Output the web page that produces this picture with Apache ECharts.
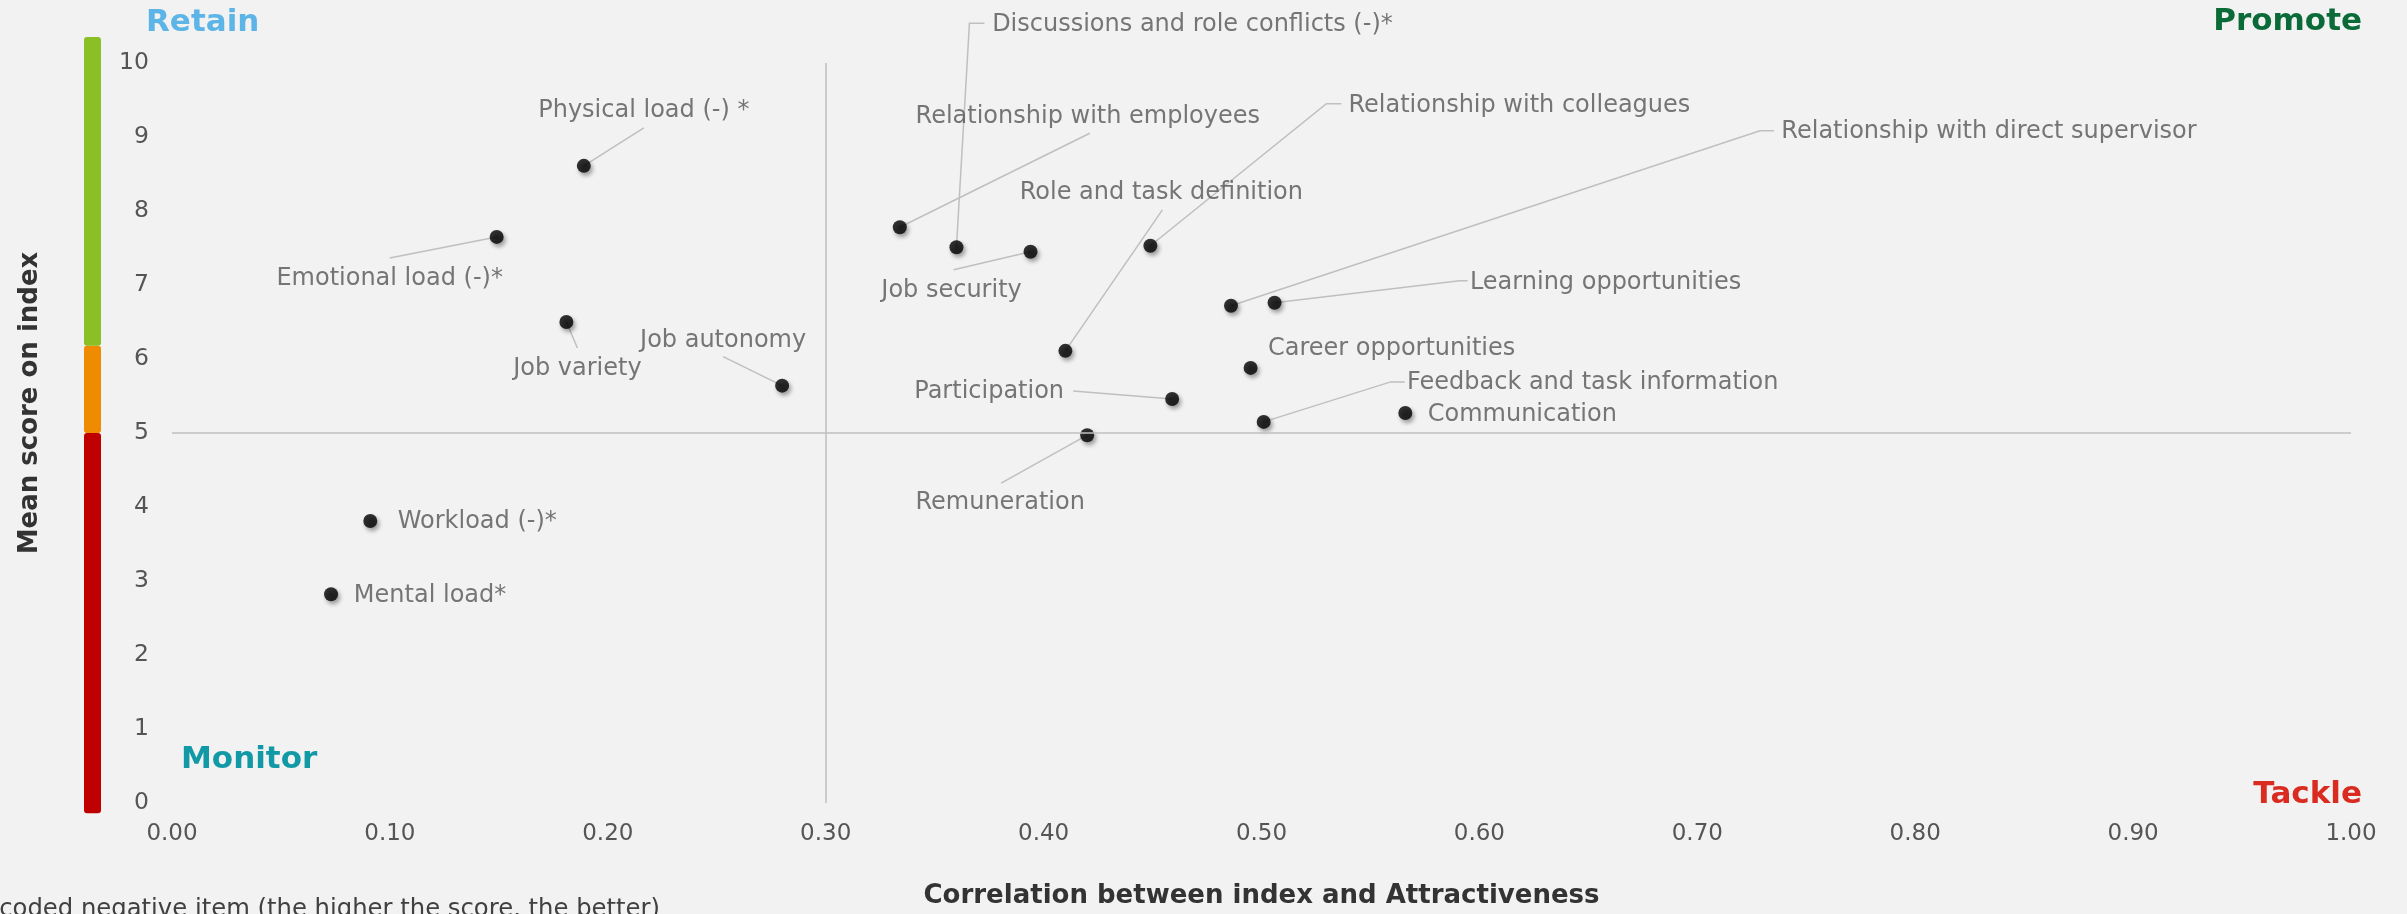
<!DOCTYPE html>
<html>
<head>
<meta charset="utf-8">
<title>Attractiveness quadrant</title>
<script src="https://cdn.jsdelivr.net/npm/echarts@6/dist/echarts.min.js"></script>
<style>
html, body { margin: 0; padding: 0; background: #f2f2f2; }
#chart { width: 2407px; height: 914px; }
</style>
</head>
<body>
<div id="chart"></div>
<script>
// items and their values
const items = [
    'Physical load (-) *',
    'Emotional load (-)*',
    'Job variety',
    'Job autonomy',
    'Workload (-)*',
    'Mental load*',
    'Relationship with employees',
    'Discussions and role conflicts (-)*',
    'Job security',
    'Relationship with colleagues',
    'Relationship with direct supervisor',
    'Learning opportunities',
    'Role and task definition',
    'Career opportunities',
    'Participation',
    'Feedback and task information',
    'Communication',
    'Remuneration'
];
const correlation = [0.189, 0.149, 0.181, 0.280, 0.091, 0.073, 0.334, 0.360, 0.394, 0.449, 0.486, 0.506, 0.410, 0.495, 0.459, 0.501, 0.566, 0.420];
const meanScore = [8.61, 7.65, 6.50, 5.64, 3.81, 2.82, 7.78, 7.51, 7.45, 7.53, 6.72, 6.76, 6.11, 5.88, 5.46, 5.15, 5.27, 4.97];

// quadrant split values
const splitX = 0.30;
const splitY = 5;

// label placement: pixel offset of the label centre from its dot
const labelOffsets = [
    [60, -55], [-107, 42], [11, 47], [-59, -45], [107, 1], [99, 1],
    [188, -111], [236, -222], [-79, 39], [369, -140], [758, -174], [331, -20],
    [96, -158], [141, -19], [-183, -7], [329, -39], [117, 2], [-87, 68]
];
// leader lines: bends in pixels from the dot, null = no line
const leaderPaths = [
    [[60, -38]],
    [[-107, 21]],
    [[11, 26]],
    [[-59, -29]],
    null,
    null,
    [[190, -94]],
    [[13, -224], [28, -224]],
    [[-77, 18]],
    [[176, -142], [191, -142]],
    [[529, -175], [543, -175]],
    [[185, -22], [193, -22]],
    [[97, -141]],
    null,
    [[-99, -8]],
    [[127, -40], [141, -40]],
    null,
    [[-86, 48]]
];

// colour bar next to the y axis
const bands = [
    { from: -0.14, to: 5, color: '#c00000' },
    { from: 5, to: 6.18, color: '#ee8b00' },
    { from: 6.18, to: 10.35, color: '#8bbf26' }
];

const labelColor = '#555555';
const font = 'DejaVu Sans';

var chartDom = document.getElementById('chart');
var myChart = echarts.init(chartDom);

var points = items.map(function (name, i) {
    return { name: name, value: [correlation[i], meanScore[i]] };
});

var option = {
    backgroundColor: '#f2f2f2',
    animation: false,
    grid: { left: 172, right: 56, top: 63, bottom: 111 },
    xAxis: {
        type: 'value',
        min: 0,
        max: 1,
        interval: 0.1,
        name: 'Correlation between index and Attractiveness',
        nameLocation: 'middle',
        nameGap: 80,
        nameTextStyle: { fontFamily: font, fontWeight: 'bold', fontSize: 26, color: '#333333' },
        axisLine: { show: false },
        axisTick: { show: false },
        splitLine: { show: false },
        axisLabel: {
            margin: 20,
            fontFamily: font,
            fontSize: 23,
            color: labelColor,
            formatter: function (v) { return v.toFixed(2); }
        }
    },
    yAxis: {
        type: 'value',
        min: 0,
        max: 10,
        interval: 1,
        name: 'Mean score on index',
        nameLocation: 'middle',
        nameGap: 129,
        nameTextStyle: { fontFamily: font, fontWeight: 'bold', fontSize: 26, color: '#333333', padding: [0, 0, 0, 60] },
        axisLine: { show: false },
        axisTick: { show: false },
        splitLine: { show: false },
        axisLabel: { margin: 23, fontFamily: font, fontSize: 23.5, color: labelColor }
    },
    series: [{
        // leader lines, drawn under the dots
        type: 'custom',
        silent: true,
        z: 1,
        renderItem: function (params, api) {
            var path = leaderPaths[params.dataIndex];
            if (!path) {
                return { type: 'group', children: [] };
            }
            var p = api.coord([api.value(0), api.value(1)]);
            var pts = [p].concat(path.map(function (o) { return [p[0] + o[0], p[1] + o[1]]; }));
            return {
                type: 'polyline',
                shape: { points: pts },
                style: { stroke: '#bfbfbf', lineWidth: 1.5, fill: null }
            };
        },
        data: points
    }, {
        type: 'scatter',
        symbolSize: 14,
        silent: true,
        z: 2,
        itemStyle: {
            color: '#000000',
            shadowBlur: 4,
            shadowColor: 'rgba(0,0,0,0.45)',
            shadowOffsetX: 2,
            shadowOffsetY: 3
        },
        label: {
            show: true,
            formatter: '{b}',
            fontFamily: font,
            fontSize: 24,
            color: labelColor
        },
        labelLayout: function (params) {
            var off = labelOffsets[params.dataIndex];
            return {
                x: params.rect.x + params.rect.width / 2 + off[0],
                y: params.rect.y + params.rect.height / 2 + off[1],
                align: 'center',
                verticalAlign: 'middle'
            };
        },
        markLine: {
            silent: true,
            symbol: 'none',
            label: { show: false },
            lineStyle: { color: '#bfbfbf', width: 1.5, type: 'solid' },
            data: [
                [{ coord: [splitX, 0] }, { coord: [splitX, 10] }],
                [{ coord: [0, splitY] }, { coord: [1, splitY] }]
            ]
        },
        data: points
    }]
};

myChart.setOption(option);

// colour bar and quadrant captions
var graphics = bands.map(function (b) {
    var y1 = myChart.convertToPixel({ gridIndex: 0 }, [0, b.to])[1];
    var y0 = myChart.convertToPixel({ gridIndex: 0 }, [0, b.from])[1];
    return {
        type: 'rect',
        shape: { x: 84, y: y1, width: 17, height: y0 - y1, r: 3 },
        style: { fill: b.color }
    };
});

function caption(text, x, y, align, color) {
    return {
        type: 'text',
        x: x,
        y: y,
        style: {
            text: text,
            fill: color,
            font: 'bold 31px "DejaVu Sans"',
            textAlign: align,
            textVerticalAlign: 'middle'
        }
    };
}
graphics.push(caption('Retain', 146, 23, 'left', '#5db4e6'));
graphics.push(caption('Promote', 2362, 22, 'right', '#0a6b38'));
graphics.push(caption('Monitor', 181, 760, 'left', '#1199a6'));
graphics.push(caption('Tackle', 2362, 795, 'right', '#d92b1f'));
graphics.push({
    type: 'text',
    x: 660,
    y: 898,
    style: {
        text: '* Recoded negative item (the higher the score, the better)',
        fill: '#404040',
        font: '24.3px "DejaVu Sans"',
        textAlign: 'right',
        textVerticalAlign: 'top'
    }
});

myChart.setOption({ graphic: graphics });
</script>
</body>
</html>
